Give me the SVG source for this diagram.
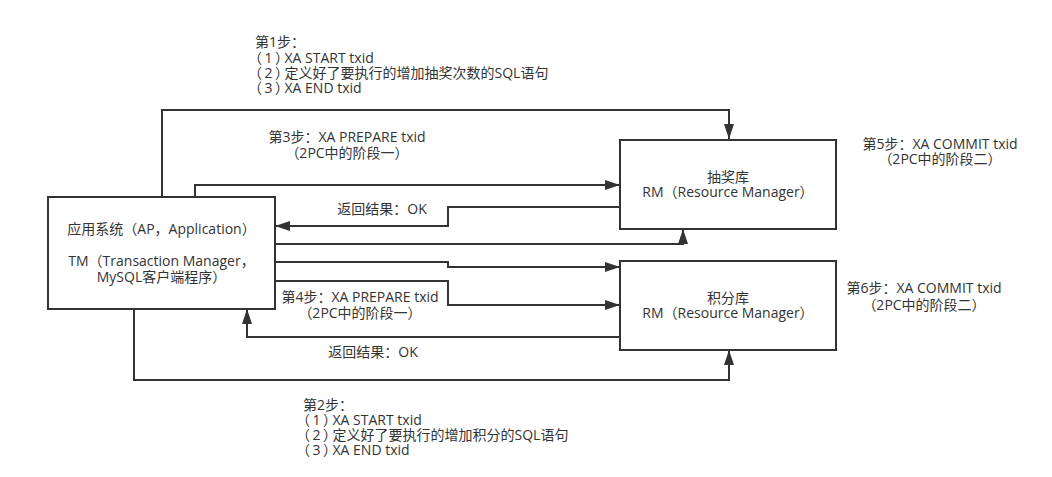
<svg xmlns="http://www.w3.org/2000/svg" width="1052" height="477" viewBox="0 0 1052 477">
<style>
  .box { fill: #ffffff; stroke: #333333; stroke-width: 2; }
  .conn { fill: none; stroke: #333333; stroke-width: 2; marker-end: url(#arr); }
  text { font-family: "Open Sans", "Noto Sans CJK SC", sans-serif; font-size: 14px; fill: #333333; }
  .c { text-anchor: middle; }
  .list { font-feature-settings: "halt"; }
  .p { letter-spacing: 2.5px; }
</style>
<defs>
  <marker id="arr" markerUnits="userSpaceOnUse" markerWidth="15" markerHeight="10" refX="15" refY="5" orient="auto">
    <path d="M0,0 L15,5 L0,10 Z" fill="#333333"/>
  </marker>
</defs>
<rect width="1052" height="477" fill="#ffffff"/>
<g id="connectors">
  <path class="conn" d="M162,197 V110 H729 V139"/>
  <path class="conn" d="M195,197 V185 H620"/>
  <path class="conn" d="M620,207 H448 V226 H275"/>
  <path class="conn" d="M275,244 H683 V229"/>
  <path class="conn" d="M275,262 H448 V267 H620"/>
  <path class="conn" d="M275,281 H448 V305 H620"/>
  <path class="conn" d="M620,337 H247 V309"/>
  <path class="conn" d="M134,309 V380 H729 V350"/>
</g>
<g id="labels">
  <text x="255" y="47">第1步：</text>
  <text class="list" x="255" y="62.5"><tspan class="p">（1）</tspan>XA START txid</text>
  <text class="list" x="255" y="78"><tspan class="p">（2）</tspan>定义好了要执行的增加抽奖次数的SQL语句</text>
  <text class="list" x="255" y="93"><tspan class="p">（3）</tspan>XA END txid</text>
  <text class="c" x="347" y="142">第3步：XA PREPARE txid</text>
  <text class="c" x="347" y="158">（2PC中的阶段一）</text>
  <text class="c" x="382" y="214">返回结果：OK</text>
  <text class="c" x="360" y="302">第4步：XA PREPARE txid</text>
  <text class="c" x="360" y="318">（2PC中的阶段一）</text>
  <text class="c" x="373" y="357">返回结果：OK</text>
  <text class="c" x="940" y="149">第5步：XA COMMIT txid</text>
  <text class="c" x="940" y="164">（2PC中的阶段二）</text>
  <text class="c" x="924" y="293">第6步：XA COMMIT txid</text>
  <text class="c" x="924" y="309.5">（2PC中的阶段二）</text>
  <text x="303" y="410">第2步：</text>
  <text class="list" x="303" y="424.5"><tspan class="p">（1）</tspan>XA START txid</text>
  <text class="list" x="303" y="439.5"><tspan class="p">（2）</tspan>定义好了要执行的增加积分的SQL语句</text>
  <text class="list" x="303" y="454.5"><tspan class="p">（3）</tspan>XA END txid</text>
</g>
<g id="node-ap">
  <rect class="box" x="48" y="197" width="227" height="112"/>
  <text class="c" x="161.5" y="234">应用系统（AP，Application）</text>
  <text class="c" x="161.5" y="266">TM（Transaction Manager，</text>
  <text class="c" x="161.5" y="282">MySQL客户端程序）</text>
</g>
<g id="node-choujiang">
  <rect class="box" x="620" y="140" width="216" height="89"/>
  <text class="c" x="728" y="182">抽奖库</text>
  <text class="c" x="728" y="197">RM（Resource Manager）</text>
</g>
<g id="node-jifen">
  <rect class="box" x="620" y="261" width="216" height="89"/>
  <text class="c" x="728" y="303">积分库</text>
  <text class="c" x="728" y="318">RM（Resource Manager）</text>
</g>
</svg>
